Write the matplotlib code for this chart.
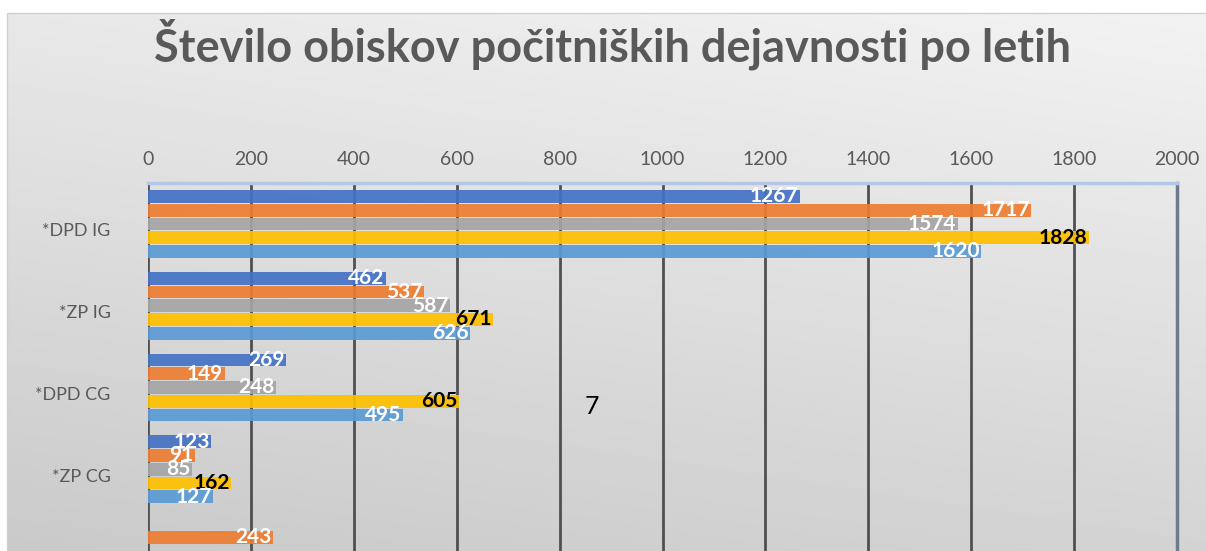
import numpy as np
import matplotlib.pyplot as plt
import matplotlib.transforms as mtransforms
from matplotlib.patches import Rectangle

plt.rcParams['font.family'] = ['Lato', 'DejaVu Sans']

# podatki (odčitano s slike; spodnji del grafa je odrezan)
categories = ['*DPD IG', '*ZP IG', '*DPD CG', '*ZP CG', '']
leto_1 = [1267, 462, 269, 123, np.nan]
leto_2 = [1717, 537, 149, 91, 243]
leto_3 = [1574, 587, 248, 85, np.nan]
leto_4 = [1828, 671, 605, 162, np.nan]
leto_5 = [1620, 626, 495, 127, np.nan]
series = [leto_1, leto_2, leto_3, leto_4, leto_5]
x_ticks = list(range(0, 2001, 200))

colors = ['#4472c4', '#ed7d31', '#a5a5a5', '#ffc000', '#5b9bd5']
label_colors = ['white', 'white', 'white', 'black', 'white']

W, H = 1206, 551
fig = plt.figure(figsize=(W / 100, H / 100), dpi=100)

# ozadje z rahlim prelivom
bg = fig.add_axes([0, 0, 1, 1])
bg.set_xlim(0, W)
bg.set_ylim(H, 0)
bg.axis('off')
yy, xx = np.mgrid[0:1:200j, 0:1:400j]
grad = 0.95 - 0.12 * yy - 0.04 * (1 - xx)
bg.imshow(grad, cmap='gray', vmin=0, vmax=1, extent=[7, W, H, 13],
          aspect='auto', interpolation='bilinear')
bg.add_patch(Rectangle((7, 13), W, H, fill=False, edgecolor='#d0d0d0', lw=1))

# graf
px_cat = 83.2
top_px = 183
ax = fig.add_axes([148 / W, 0, 1029 / W, (H - top_px) / H])
ax.patch.set_alpha(0)
ax.set_xlim(0, 2000)
ax.set_ylim(-0.5 + (H - top_px) / px_cat, -0.5)

step = 14.0 / px_cat
height = 13 / px_cat
y = np.arange(len(categories))
for i, vals in enumerate(series):
    pos = y + (i - 2) * step
    ax.barh(pos, vals, height=height, color=colors[i], alpha=0.92, zorder=3)
    for p, v in zip(pos, vals):
        if np.isnan(v):
            continue
        ax.annotate(f'{v:.0f}', (v, p), xytext=(-1, 0), textcoords='offset points',
                    ha='right', va='center', fontsize=15, fontweight='bold',
                    color=label_colors[i], zorder=4)

ax.xaxis.tick_top()
ax.set_xticks(x_ticks)
ax.tick_params(axis='x', length=0, pad=11, labelsize=14, labelcolor='#595959')
ax.set_yticks(y)
ax.set_yticklabels(categories)
ax.tick_params(axis='y', length=0, pad=27, labelsize=13, labelcolor='#595959')
shift = mtransforms.ScaledTranslation(0, -6 / 100, fig.dpi_scale_trans)
for lab in ax.get_yticklabels():
    lab.set_transform(lab.get_transform() + shift)
ax.grid(axis='x', color='#505050', lw=2, zorder=1)
for s in ['left', 'bottom']:
    ax.spines[s].set_visible(False)
ax.spines['top'].set_color('#b4c7e7')
ax.spines['top'].set_linewidth(2.5)
ax.spines['right'].set_color('#6e7b8f')
ax.spines['right'].set_linewidth(2.5)

fig.text(612 / W, 1 - 44 / H, 'Število obiskov počitniških dejavnosti po letih',
         ha='center', va='center', fontsize=32.5, fontweight='bold', color='#595959')
fig.text(592 / W, 1 - 406 / H, '7', ha='center', va='center', fontsize=18,
         color='black')

fig.savefig('out.png', dpi=100)
